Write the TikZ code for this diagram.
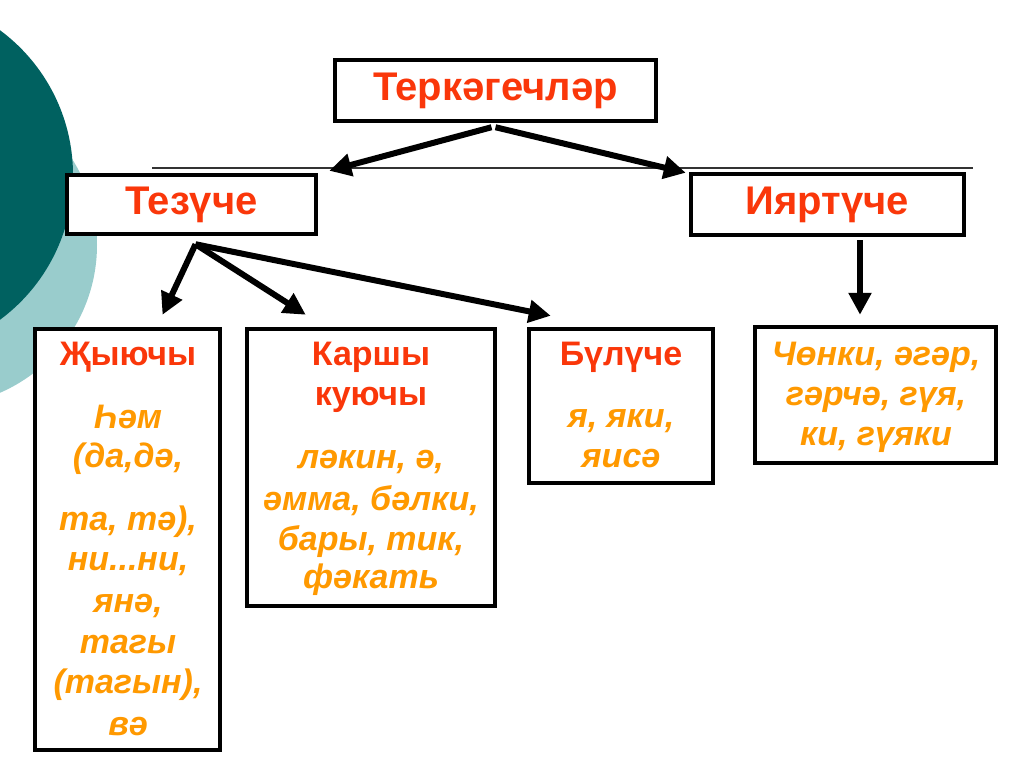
\documentclass[tikz,border=0pt]{standalone}
\usepackage{fontspec}
\setmainfont{Liberation Sans}
\usetikzlibrary{arrows.meta,calc}
\definecolor{TealDark}{RGB}{0,97,96}
\definecolor{TealLight}{RGB}{153,204,204}
\definecolor{HeadRed}{RGB}{250,55,10}
\definecolor{WordOrange}{RGB}{255,153,0}

\begin{document}
\begin{tikzpicture}[x=1pt, y=-1pt,
    box/.style={draw=black, line width=4.5pt, fill=white, inner sep=0pt},
    headbox/.style={box, font=\fontsize{40}{46}\selectfont\bfseries, text=HeadRed},
    head/.style={font=\fontsize{34}{40}\selectfont\bfseries, text=HeadRed, anchor=base, inner sep=0pt},
    word/.style={font=\fontsize{34}{40}\selectfont\bfseries\itshape, text=WordOrange, anchor=base, inner sep=0pt},
    arr/.style={line width=6pt, -{Triangle[length=22pt,width=22pt]}}]

  \useasboundingbox (0,0) rectangle (1024,767);

  % --- Background circles (left edge) ---
  \begin{scope}
    \clip (0,0) rectangle (1024,767);
    \fill[TealLight] (-64,245) circle[radius=161pt];
    \fill[TealDark] (-107,175) circle[radius=180pt];
  \end{scope}

  % --- Thin rule under the top box ---
  \draw[black!80, line width=1.3pt] (152,168) -- (973,168);

  % --- Top level ---
  \node[headbox, minimum width=321pt, minimum height=61pt] (terk) at (495.5,90.5) {Теркәгечләр};
  \node[headbox, minimum width=249pt, minimum height=59pt] (tezuche) at (191.5,204.5) {Тезүче};
  \node[headbox, minimum width=273pt, minimum height=61pt] (iyar) at (827.5,204.5) {Ияртүче};

  % --- Lower boxes ---
  \node[box, minimum width=185pt, minimum height=421pt] (jy) at (127.5,539.5) {};
  \node[box, minimum width=248pt, minimum height=277pt] (karsh) at (371,467.5) {};
  \node[box, minimum width=184pt, minimum height=154pt] (bul) at (621,406) {};
  \node[box, minimum width=241pt, minimum height=136pt] (chonki) at (875.5,395) {};

  % --- Box texts (baselines) ---
  \node[head] (jyh) at (128,365) {Җыючы};
  \foreach \y/\t [count=\i] in {428/{Һәм}, 467/{(да,дә,}, 530/{та, тә),}, 570/{ни...ни,},
      612/{янә,}, 653/{тагы}, 693/{(тагын),}, 735/{вә}}
    \node[word] (jyw\i) at (128,\y) {\t};

  \node[head] (karshh1) at (371,365) {Каршы};
  \node[head] (karshh2) at (371,405) {куючы};
  \foreach \y/\t [count=\i] in {468/{ләкин, ә,}, 510/{әмма, бәлки,}, 550/{бары, тик,}, 588/{фәкать}}
    \node[word] (karshw\i) at (371,\y) {\t};

  \node[head] (bulh) at (621,365) {Бүлүче};
  \foreach \y/\t [count=\i] in {427/{я, яки,}, 467/{яисә}}
    \node[word] (bulw\i) at (621,\y) {\t};

  \foreach \y/\t [count=\i] in {365/{Чөнки, әгәр,}, 405/{гәрчә, гүя,}, 445/{ки, гүяки}}
    \node[word] (chonkiw\i) at (876,\y) {\t};

  % --- Arrows ---
  \draw[arr] ($(terk.south)+(-4,4)$) -- ($(tezuche.north east)+(11,-2)$);
  \draw[arr] ($(terk.south)+(0,4)$) -- ($(iyar.north west)+(-3,1)$);

  \coordinate (tzfork) at ($(tezuche.south)+(4,8)$);
  \draw[arr] (tzfork) -- ($(jy.north)+(35,-12)$);
  \draw[arr] (tzfork) -- ($(karsh.north west)+(61,-12)$);
  \draw[arr] (tzfork) -- ($(bul.north west)+(24,-11)$);

  \draw[arr] ($(iyar.south)+(32.5,3)$) -- ($(chonki.north)+(-15.5,-10)$);

\end{tikzpicture}
\end{document}
